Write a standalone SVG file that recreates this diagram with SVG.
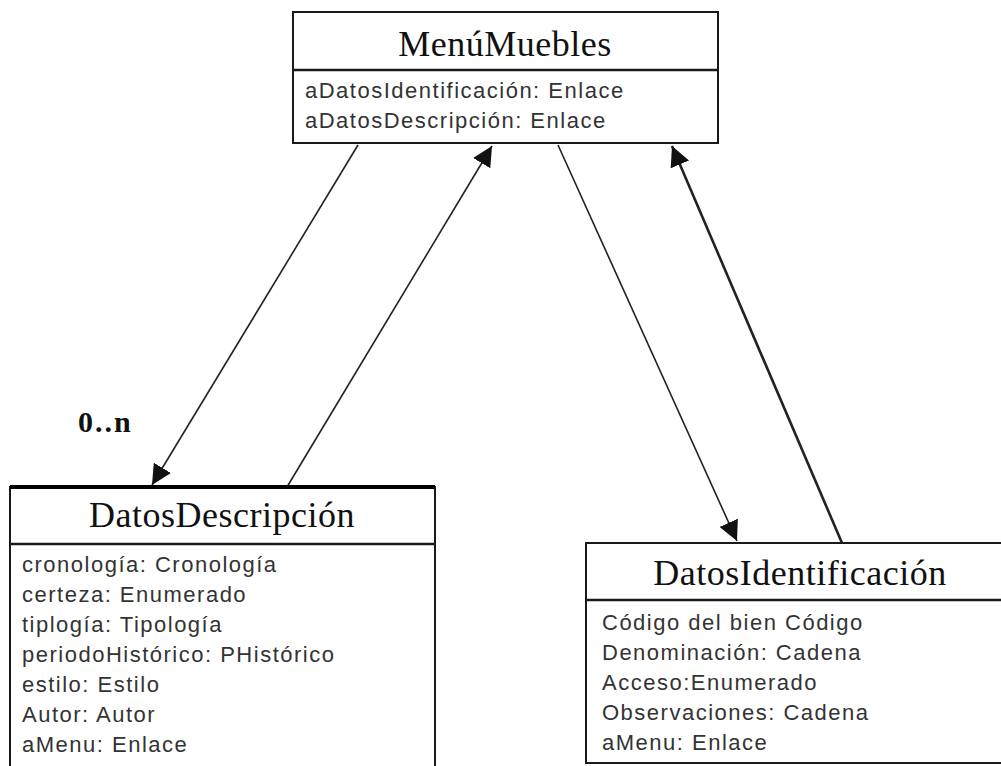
<svg xmlns="http://www.w3.org/2000/svg" width="1001" height="766" viewBox="0 0 1001 766">
  <defs>
    <style>
      .box { fill: #ffffff; stroke: #1a1a1a; stroke-width: 2; }
      .div { stroke: #1a1a1a; stroke-width: 2.5; }
      .title { font-family: "Liberation Serif", "Times New Roman", serif; font-size: 36px; letter-spacing: 0.5px; fill: #111; text-anchor: middle; }
      .attr { font-family: "Liberation Sans", Arial, sans-serif; font-size: 22px; letter-spacing: 1.5px; fill: #333; }
      .link { fill: none; stroke: #222; stroke-width: 1.6; }
      .mult { font-family: "Liberation Serif", "Times New Roman", serif; font-size: 30px; font-weight: bold; letter-spacing: 2px; fill: #111; }
    </style>
    <marker id="arrow" viewBox="0 0 10 10" refX="10" refY="5" markerWidth="20" markerHeight="20" markerUnits="userSpaceOnUse" orient="auto">
      <path d="M0,0 L10,5 L0,10 z" fill="#111"/>
    </marker>
  </defs>

  <rect width="1001" height="766" fill="#ffffff"/>

  <!-- associations -->
  <g id="connectors">
    <line class="link" x1="358" y1="145" x2="152" y2="485" marker-end="url(#arrow)"/>
    <line class="link" x1="287" y1="487" x2="492" y2="146" marker-end="url(#arrow)"/>
    <line class="link" x1="558" y1="145" x2="737" y2="541" marker-end="url(#arrow)"/>
    <line class="link" x1="842" y1="543" x2="672" y2="146" marker-end="url(#arrow)" style="stroke-width:2.6"/>
    <text class="mult" x="78" y="432">0..n</text>
  </g>

  <!-- class MenúMuebles -->
  <g id="menu-muebles">
    <rect class="box" x="293" y="12" width="425" height="131"/>
    <line class="div" x1="293" y1="70" x2="718" y2="70"/>
    <text class="title" x="505" y="56">MenúMuebles</text>
    <text class="attr" x="305" y="98">aDatosIdentificación: Enlace</text>
    <text class="attr" x="305" y="128">aDatosDescripción: Enlace</text>
  </g>

  <!-- class DatosDescripción -->
  <g id="datos-descripcion">
    <rect class="box" x="10" y="487" width="425" height="300"/>
    <line x1="10" y1="487" x2="435" y2="487" stroke="#000" stroke-width="4"/>
    <line class="div" x1="10" y1="544" x2="435" y2="544"/>
    <text class="title" x="222" y="527">DatosDescripción</text>
    <text class="attr" x="22" y="572">cronología: Cronología</text>
    <text class="attr" x="22" y="602">certeza: Enumerado</text>
    <text class="attr" x="22" y="632">tiplogía: Tipología</text>
    <text class="attr" x="22" y="662">periodoHistórico: PHistórico</text>
    <text class="attr" x="22" y="692">estilo: Estilo</text>
    <text class="attr" x="22" y="722">Autor: Autor</text>
    <text class="attr" x="22" y="752">aMenu: Enlace</text>
  </g>

  <!-- class DatosIdentificación -->
  <g id="datos-identificacion">
    <rect class="box" x="586" y="543" width="430" height="220"/>
    <line class="div" x1="586" y1="600" x2="1001" y2="600"/>
    <text class="title" x="800" y="585">DatosIdentificación</text>
    <text class="attr" x="602" y="630">Código del bien Código</text>
    <text class="attr" x="602" y="660">Denominación: Cadena</text>
    <text class="attr" x="602" y="690">Acceso:Enumerado</text>
    <text class="attr" x="602" y="720">Observaciones: Cadena</text>
    <text class="attr" x="602" y="750">aMenu: Enlace</text>
  </g>
</svg>
